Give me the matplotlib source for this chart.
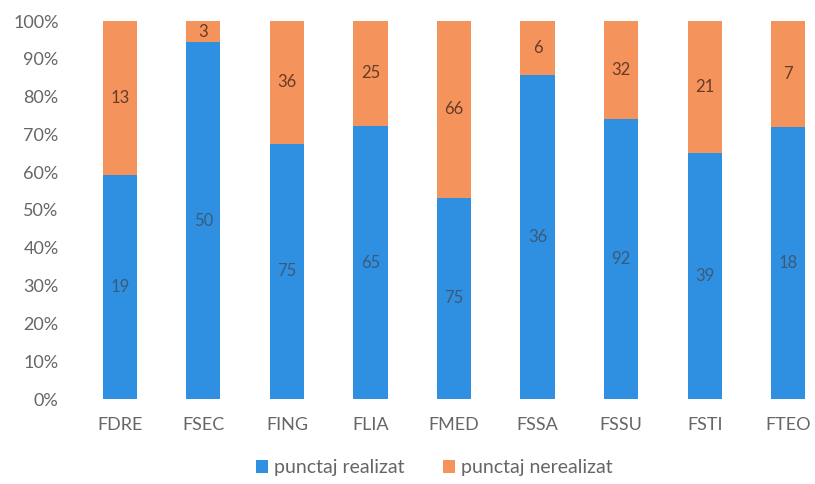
import numpy as np
import matplotlib.pyplot as plt

categories = ["FDRE", "FSEC", "FING", "FLIA", "FMED", "FSSA", "FSSU", "FSTI", "FTEO"]
realizat = [19, 50, 75, 65, 75, 36, 92, 39, 18]
nerealizat = [13, 3, 36, 25, 66, 6, 32, 21, 7]
series_names = ["punctaj realizat", "punctaj nerealizat"]

plt.rcParams['font.family'] = ['Lato', 'DejaVu Sans']

real = np.array(realizat, dtype=float)
nereal = np.array(nerealizat, dtype=float)
total = real + nereal
p_real = real / total * 100
p_nereal = nereal / total * 100

blue = "#2F90E2"
orange = "#F4945C"
grey = "#666666"

fig = plt.figure(figsize=(8.15, 4.84), dpi=100)
ax = fig.add_axes([78 / 815, 85 / 484, 752 / 815, 378 / 484])

x = np.arange(len(categories))
b1 = ax.bar(x, p_real, width=0.41, color=blue, label=series_names[0])
b2 = ax.bar(x, p_nereal, width=0.41, bottom=p_real, color=orange, label=series_names[1])

for i in range(len(categories)):
    ax.text(x[i], p_real[i] / 2, str(realizat[i]), ha="center", va="center",
            fontsize=12, color="#3A5A7A")
    ax.text(x[i], p_real[i] + p_nereal[i] / 2, str(nerealizat[i]), ha="center", va="center",
            fontsize=12, color="#6A3A25")

ax.set_xlim(-0.5, len(categories) - 0.5)
ax.set_ylim(0, 100)
ax.set_yticks(np.arange(0, 101, 10))
ax.set_yticklabels([f"{v}%" for v in range(0, 101, 10)])
ax.set_xticks(x)
ax.set_xticklabels(categories)
ax.tick_params(axis="both", length=0, labelsize=13, labelcolor=grey)
ax.tick_params(axis="x", pad=13)
ax.tick_params(axis="y", pad=14)
for s in ax.spines.values():
    s.set_visible(False)

fig.legend(handles=[b1, b2], loc="center", bbox_to_anchor=(0.533, 1 - 468 / 484), ncol=2,
           frameon=False, fontsize=14, labelcolor=grey, handlelength=0.6, handleheight=0.6,
           handletextpad=0.3, columnspacing=2.0)

fig.savefig("out.png", dpi=100)
